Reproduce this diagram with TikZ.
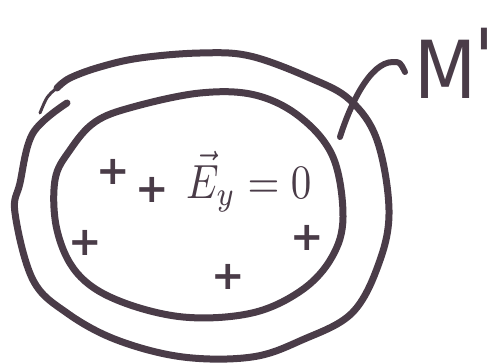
\documentclass[tikz,border=0pt]{standalone}
\usepackage{fontspec}
\usepackage{graphicx}
\newfontfamily\handfont{DejaVu Sans}
\definecolor{ink}{RGB}{74,60,72}
\tikzset{
  inkline/.style={draw=ink,line width=7pt,line cap=round,line join=round},
  charge/.style={text=ink,font=\handfont\bfseries\fontsize{40}{40}\selectfont,inner sep=0pt},
  fieldlbl/.style={text=ink,inner sep=0pt,anchor=south west},
  namelbl/.style={text=ink,inner sep=0pt,anchor=south west,font=\handfont\fontsize{80}{80}\selectfont,xscale=0.9}
}
\begin{document}
\begin{tikzpicture}[x=1pt,y=-1pt]
\useasboundingbox (0,0) rectangle (504,364);
% inner conductor
\draw[inkline] plot[smooth cycle, tension=0.6] coordinates {(133,107) (200,93) (255,95) (300,117) (333,157) (343,217) (332,257) (302,290) (252,313) (183,317) (117,300) (77,273) (57,230) (55,180) (70,150) (95,122)};
% outer surface
\draw[inkline] plot[smooth, tension=0.6] coordinates {(67,103) (33,133) (20,183) (15,213) (33,280) (67,313) (117,340) (183,357) (252,357) (302,340) (352,313) (379,263) (389,210) (377,140) (350,100) (310,78) (250,56) (200,53) (140,58) (100,67) (70,78) (57,88)};
\draw[draw=ink, line width=3pt, line cap=round] (57,88) .. controls (47,96) .. (40,113);
% charges
\node[charge] (q1) at (113,172) {+};
\node[charge] (q2) at (152,190) {+};
\node[charge] (q3) at (85,243) {+};
\node[charge] (q4) at (228,277) {+};
\node[charge] (q5) at (307,238) {+};
% label
\node[namelbl] (lab) at (414,99) {M\kern-0.03em\raisebox{0.15em}{'}};
% field text
\node[fieldlbl] (fld) at (186,212) {\scalebox{4.1}[4.8]{$\vec{E}_{y}=0$}};
\coordinate (ls) at (340,137);
\coordinate (le) at (405,72);
\draw[inkline,line width=6pt] (ls) .. controls (350,105) and (370,62) .. (393,62) .. controls (400,62) .. (le);
\end{tikzpicture}
\end{document}
